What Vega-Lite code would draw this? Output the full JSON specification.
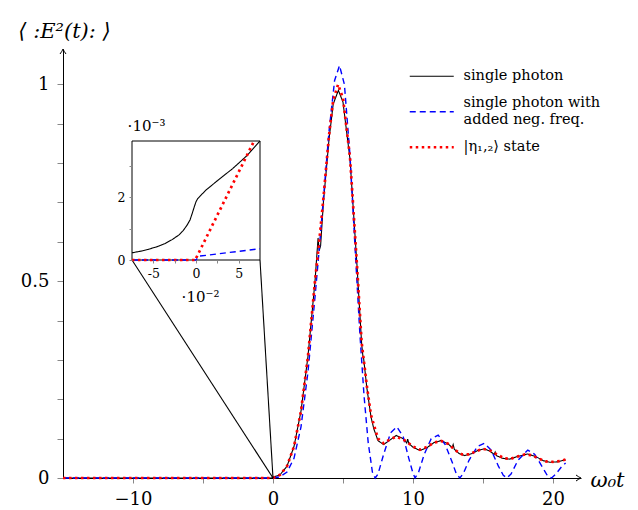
{
  "$schema": "https://vega.github.io/schema/vega-lite/v6.json",
  "width": 518,
  "height": 429,
  "autosize": "none",
  "padding": {"left": 63, "top": 49, "right": 57, "bottom": 32},
  "background": "white",
  "config": {"view": {"stroke": null}, "axis": {"grid": false}},
  "datasets": {
    "main": [
      {"series": "single photon", "x": -15, "y": 0},
      {"series": "single photon", "x": -0.1, "y": 0},
      {"series": "single photon", "x": 0, "y": 0.002},
      {"series": "single photon", "x": 0.5, "y": 0.008},
      {"series": "single photon", "x": 1.0, "y": 0.03},
      {"series": "single photon", "x": 1.5, "y": 0.08},
      {"series": "single photon", "x": 2.0, "y": 0.17},
      {"series": "single photon", "x": 2.5, "y": 0.31},
      {"series": "single photon", "x": 3.0, "y": 0.5},
      {"series": "single photon", "x": 3.15, "y": 0.575},
      {"series": "single photon", "x": 3.22, "y": 0.61},
      {"series": "single photon", "x": 3.3, "y": 0.578},
      {"series": "single photon", "x": 3.4, "y": 0.59},
      {"series": "single photon", "x": 3.6, "y": 0.7},
      {"series": "single photon", "x": 4.0, "y": 0.86},
      {"series": "single photon", "x": 4.3, "y": 0.95},
      {"series": "single photon", "x": 4.67, "y": 0.985},
      {"series": "single photon", "x": 5.0, "y": 0.955},
      {"series": "single photon", "x": 5.5, "y": 0.81},
      {"series": "single photon", "x": 6.0, "y": 0.54},
      {"series": "single photon", "x": 6.33, "y": 0.342},
      {"series": "single photon", "x": 6.42, "y": 0.31},
      {"series": "single photon", "x": 6.47, "y": 0.305},
      {"series": "single photon", "x": 6.7, "y": 0.23},
      {"series": "single photon", "x": 7.0, "y": 0.155},
      {"series": "single photon", "x": 7.2, "y": 0.125},
      {"series": "single photon", "x": 7.5, "y": 0.095},
      {"series": "single photon", "x": 7.9, "y": 0.085},
      {"series": "single photon", "x": 8.3, "y": 0.095},
      {"series": "single photon", "x": 8.8, "y": 0.108},
      {"series": "single photon", "x": 9.3, "y": 0.1},
      {"series": "single photon", "x": 9.55, "y": 0.089},
      {"series": "single photon", "x": 9.62, "y": 0.099},
      {"series": "single photon", "x": 9.7, "y": 0.088},
      {"series": "single photon", "x": 10.0, "y": 0.078},
      {"series": "single photon", "x": 10.5, "y": 0.07},
      {"series": "single photon", "x": 11.0, "y": 0.077},
      {"series": "single photon", "x": 11.5, "y": 0.09},
      {"series": "single photon", "x": 12.0, "y": 0.095},
      {"series": "single photon", "x": 12.5, "y": 0.087},
      {"series": "single photon", "x": 12.8, "y": 0.077},
      {"series": "single photon", "x": 12.87, "y": 0.085},
      {"series": "single photon", "x": 12.95, "y": 0.073},
      {"series": "single photon", "x": 13.3, "y": 0.062},
      {"series": "single photon", "x": 13.7, "y": 0.057},
      {"series": "single photon", "x": 14.2, "y": 0.062},
      {"series": "single photon", "x": 14.7, "y": 0.071},
      {"series": "single photon", "x": 15.1, "y": 0.074},
      {"series": "single photon", "x": 15.5, "y": 0.068},
      {"series": "single photon", "x": 15.8, "y": 0.06},
      {"series": "single photon", "x": 15.87, "y": 0.066},
      {"series": "single photon", "x": 15.95, "y": 0.057},
      {"series": "single photon", "x": 16.4, "y": 0.05},
      {"series": "single photon", "x": 16.9, "y": 0.048},
      {"series": "single photon", "x": 17.5, "y": 0.055},
      {"series": "single photon", "x": 18.2, "y": 0.061},
      {"series": "single photon", "x": 18.8, "y": 0.054},
      {"series": "single photon", "x": 19.3, "y": 0.044},
      {"series": "single photon", "x": 19.8, "y": 0.04},
      {"series": "single photon", "x": 20.3, "y": 0.041},
      {"series": "single photon", "x": 20.9, "y": 0.046},

      {"series": "single photon with added neg. freq.", "x": -15, "y": 0},
      {"series": "single photon with added neg. freq.", "x": 0, "y": 0},
      {"series": "single photon with added neg. freq.", "x": 0.5, "y": 0.003},
      {"series": "single photon with added neg. freq.", "x": 1.0, "y": 0.015},
      {"series": "single photon with added neg. freq.", "x": 1.5, "y": 0.05},
      {"series": "single photon with added neg. freq.", "x": 2.0, "y": 0.13},
      {"series": "single photon with added neg. freq.", "x": 2.5, "y": 0.27},
      {"series": "single photon with added neg. freq.", "x": 3.0, "y": 0.46},
      {"series": "single photon with added neg. freq.", "x": 3.3, "y": 0.58},
      {"series": "single photon with added neg. freq.", "x": 3.6, "y": 0.71},
      {"series": "single photon with added neg. freq.", "x": 4.0, "y": 0.88},
      {"series": "single photon with added neg. freq.", "x": 4.4, "y": 1.01},
      {"series": "single photon with added neg. freq.", "x": 4.75, "y": 1.048},
      {"series": "single photon with added neg. freq.", "x": 5.1, "y": 1.0},
      {"series": "single photon with added neg. freq.", "x": 5.5, "y": 0.82},
      {"series": "single photon with added neg. freq.", "x": 5.9, "y": 0.56},
      {"series": "single photon with added neg. freq.", "x": 6.2, "y": 0.37},
      {"series": "single photon with added neg. freq.", "x": 6.5, "y": 0.21},
      {"series": "single photon with added neg. freq.", "x": 6.8, "y": 0.09},
      {"series": "single photon with added neg. freq.", "x": 7.1, "y": 0.015},
      {"series": "single photon with added neg. freq.", "x": 7.3, "y": 0},
      {"series": "single photon with added neg. freq.", "x": 7.5, "y": 0.01},
      {"series": "single photon with added neg. freq.", "x": 7.9, "y": 0.06},
      {"series": "single photon with added neg. freq.", "x": 8.4, "y": 0.115},
      {"series": "single photon with added neg. freq.", "x": 8.85, "y": 0.13},
      {"series": "single photon with added neg. freq.", "x": 9.3, "y": 0.105},
      {"series": "single photon with added neg. freq.", "x": 9.7, "y": 0.05},
      {"series": "single photon with added neg. freq.", "x": 10.0, "y": 0.012},
      {"series": "single photon with added neg. freq.", "x": 10.15, "y": 0},
      {"series": "single photon with added neg. freq.", "x": 10.4, "y": 0.015},
      {"series": "single photon with added neg. freq.", "x": 10.8, "y": 0.06},
      {"series": "single photon with added neg. freq.", "x": 11.3, "y": 0.1},
      {"series": "single photon with added neg. freq.", "x": 11.8, "y": 0.109},
      {"series": "single photon with added neg. freq.", "x": 12.3, "y": 0.085},
      {"series": "single photon with added neg. freq.", "x": 12.8, "y": 0.04},
      {"series": "single photon with added neg. freq.", "x": 13.1, "y": 0.01},
      {"series": "single photon with added neg. freq.", "x": 13.35, "y": 0},
      {"series": "single photon with added neg. freq.", "x": 13.6, "y": 0.012},
      {"series": "single photon with added neg. freq.", "x": 14.0, "y": 0.045},
      {"series": "single photon with added neg. freq.", "x": 14.6, "y": 0.08},
      {"series": "single photon with added neg. freq.", "x": 15.1, "y": 0.088},
      {"series": "single photon with added neg. freq.", "x": 15.6, "y": 0.07},
      {"series": "single photon with added neg. freq.", "x": 16.1, "y": 0.03},
      {"series": "single photon with added neg. freq.", "x": 16.45, "y": 0.007},
      {"series": "single photon with added neg. freq.", "x": 16.7, "y": 0},
      {"series": "single photon with added neg. freq.", "x": 17.0, "y": 0.01},
      {"series": "single photon with added neg. freq.", "x": 17.5, "y": 0.045},
      {"series": "single photon with added neg. freq.", "x": 18.2, "y": 0.071},
      {"series": "single photon with added neg. freq.", "x": 18.7, "y": 0.06},
      {"series": "single photon with added neg. freq.", "x": 19.2, "y": 0.03},
      {"series": "single photon with added neg. freq.", "x": 19.6, "y": 0.006},
      {"series": "single photon with added neg. freq.", "x": 19.9, "y": 0},
      {"series": "single photon with added neg. freq.", "x": 20.2, "y": 0.01},
      {"series": "single photon with added neg. freq.", "x": 20.6, "y": 0.028},
      {"series": "single photon with added neg. freq.", "x": 20.9, "y": 0.038},

      {"series": "|η₁,₂⟩ state", "x": -15, "y": 0},
      {"series": "|η₁,₂⟩ state", "x": 0, "y": 0},
      {"series": "|η₁,₂⟩ state", "x": 0.5, "y": 0.008},
      {"series": "|η₁,₂⟩ state", "x": 1.0, "y": 0.03},
      {"series": "|η₁,₂⟩ state", "x": 1.5, "y": 0.08},
      {"series": "|η₁,₂⟩ state", "x": 2.0, "y": 0.17},
      {"series": "|η₁,₂⟩ state", "x": 2.5, "y": 0.31},
      {"series": "|η₁,₂⟩ state", "x": 3.0, "y": 0.5},
      {"series": "|η₁,₂⟩ state", "x": 3.3, "y": 0.6},
      {"series": "|η₁,₂⟩ state", "x": 3.6, "y": 0.71},
      {"series": "|η₁,₂⟩ state", "x": 4.0, "y": 0.87},
      {"series": "|η₁,₂⟩ state", "x": 4.3, "y": 0.96},
      {"series": "|η₁,₂⟩ state", "x": 4.65, "y": 1.0},
      {"series": "|η₁,₂⟩ state", "x": 5.0, "y": 0.965},
      {"series": "|η₁,₂⟩ state", "x": 5.5, "y": 0.815},
      {"series": "|η₁,₂⟩ state", "x": 6.0, "y": 0.54},
      {"series": "|η₁,₂⟩ state", "x": 6.33, "y": 0.345},
      {"series": "|η₁,₂⟩ state", "x": 6.7, "y": 0.235},
      {"series": "|η₁,₂⟩ state", "x": 7.0, "y": 0.16},
      {"series": "|η₁,₂⟩ state", "x": 7.5, "y": 0.1},
      {"series": "|η₁,₂⟩ state", "x": 7.9, "y": 0.088},
      {"series": "|η₁,₂⟩ state", "x": 8.3, "y": 0.097},
      {"series": "|η₁,₂⟩ state", "x": 8.8, "y": 0.105},
      {"series": "|η₁,₂⟩ state", "x": 9.3, "y": 0.098},
      {"series": "|η₁,₂⟩ state", "x": 9.7, "y": 0.088},
      {"series": "|η₁,₂⟩ state", "x": 10.0, "y": 0.08},
      {"series": "|η₁,₂⟩ state", "x": 10.5, "y": 0.072},
      {"series": "|η₁,₂⟩ state", "x": 11.0, "y": 0.079},
      {"series": "|η₁,₂⟩ state", "x": 11.5, "y": 0.09},
      {"series": "|η₁,₂⟩ state", "x": 12.0, "y": 0.094},
      {"series": "|η₁,₂⟩ state", "x": 12.5, "y": 0.087},
      {"series": "|η₁,₂⟩ state", "x": 13.0, "y": 0.071},
      {"series": "|η₁,₂⟩ state", "x": 13.5, "y": 0.06},
      {"series": "|η₁,₂⟩ state", "x": 14.0, "y": 0.06},
      {"series": "|η₁,₂⟩ state", "x": 14.5, "y": 0.068},
      {"series": "|η₁,₂⟩ state", "x": 15.0, "y": 0.074},
      {"series": "|η₁,₂⟩ state", "x": 15.5, "y": 0.07},
      {"series": "|η₁,₂⟩ state", "x": 16.0, "y": 0.06},
      {"series": "|η₁,₂⟩ state", "x": 16.5, "y": 0.05},
      {"series": "|η₁,₂⟩ state", "x": 17.0, "y": 0.049},
      {"series": "|η₁,₂⟩ state", "x": 17.5, "y": 0.055},
      {"series": "|η₁,₂⟩ state", "x": 18.0, "y": 0.06},
      {"series": "|η₁,₂⟩ state", "x": 18.5, "y": 0.058},
      {"series": "|η₁,₂⟩ state", "x": 19.0, "y": 0.049},
      {"series": "|η₁,₂⟩ state", "x": 19.5, "y": 0.042},
      {"series": "|η₁,₂⟩ state", "x": 20.0, "y": 0.041},
      {"series": "|η₁,₂⟩ state", "x": 20.5, "y": 0.043},
      {"series": "|η₁,₂⟩ state", "x": 20.9, "y": 0.047}
    ],
    "inset": [
      {"series": "single photon", "x": -0.075, "y": 0.00023},
      {"series": "single photon", "x": -0.065, "y": 0.00028},
      {"series": "single photon", "x": -0.056, "y": 0.00034},
      {"series": "single photon", "x": -0.045, "y": 0.00043},
      {"series": "single photon", "x": -0.036, "y": 0.00053},
      {"series": "single photon", "x": -0.028, "y": 0.00065},
      {"series": "single photon", "x": -0.02, "y": 0.0008},
      {"series": "single photon", "x": -0.015, "y": 0.00094},
      {"series": "single photon", "x": -0.0103, "y": 0.00112},
      {"series": "single photon", "x": -0.007, "y": 0.00128},
      {"series": "single photon", "x": -0.0044, "y": 0.00149},
      {"series": "single photon", "x": -0.002, "y": 0.0017},
      {"series": "single photon", "x": 0, "y": 0.00186},
      {"series": "single photon", "x": 0.002, "y": 0.00196},
      {"series": "single photon", "x": 0.0045, "y": 0.00203},
      {"series": "single photon", "x": 0.0115, "y": 0.00223},
      {"series": "single photon", "x": 0.025, "y": 0.00253},
      {"series": "single photon", "x": 0.043, "y": 0.00292},
      {"series": "single photon", "x": 0.06, "y": 0.00334},
      {"series": "single photon", "x": 0.075, "y": 0.0038},
      {"series": "single photon with added neg. freq.", "x": -0.075, "y": 0},
      {"series": "single photon with added neg. freq.", "x": 0, "y": 0},
      {"series": "single photon with added neg. freq.", "x": 0.003, "y": 0.00012},
      {"series": "single photon with added neg. freq.", "x": 0.075, "y": 0.00036},
      {"series": "|η₁,₂⟩ state", "x": -0.075, "y": 0},
      {"series": "|η₁,₂⟩ state", "x": 0, "y": 0},
      {"series": "|η₁,₂⟩ state", "x": 0.0005, "y": 0.00008},
      {"series": "|η₁,₂⟩ state", "x": 0.068, "y": 0.0038}
    ],
    "cone": [
      {"x": -10.071, "y": 0.5539, "x2": 0, "y2": 0},
      {"x": -0.929, "y": 0.5539, "x2": 0, "y2": 0}
    ]
  },
  "layer": [
    {
      "layer": [
        {
          "data": {"name": "main"},
          "mark": {"type": "line", "strokeCap": "butt"},
          "encoding": {
            "x": {
              "field": "x", "type": "quantitative",
              "scale": {"domain": [-15, 22], "nice": false, "zero": false},
              "axis": {
                "orient": "bottom",
                "values": [-10, -5, 0, 5, 10, 15, 20],
                "labelExpr": "datum.value == -10 ? '−10' : datum.value == 0 ? '0' : datum.value == 10 ? '10' : datum.value == 20 ? '20' : ''",
                "labelFont": "DejaVu Serif", "labelFontSize": 18, "labelColor": "black",
                "labelPadding": 7, "labelFlush": false, "labelOverlap": false,
                "tickColor": "#888", "tickSize": 5, "tickWidth": 1,
                "domainColor": "black", "domainWidth": 1,
                "encode": {"ticks": {"update": {"y": {"value": -5}}}},
                "title": "ω₀t", "titleX": 544, "titleY": 2,
                "titleAlign": "center", "titleBaseline": "middle",
                "titleFont": "DejaVu Serif", "titleFontStyle": "italic", "titleFontSize": 21, "titleFontWeight": "normal", "titleColor": "black"
              }
            },
            "y": {
              "field": "y", "type": "quantitative",
              "scale": {"domain": [0, 1.09], "nice": false, "zero": false},
              "axis": {
                "orient": "left",
                "values": [0, 0.1, 0.2, 0.3, 0.4, 0.5, 0.6, 0.7, 0.8, 0.9, 1],
                "labelExpr": "datum.value == 0 ? '0' : datum.value == 0.5 ? '0.5' : datum.value == 1 ? '1' : ''",
                "labelFont": "DejaVu Serif", "labelFontSize": 18, "labelColor": "black",
                "labelPadding": 8, "labelFlush": false, "labelOverlap": false,
                "tickColor": "#888", "tickSize": 6, "tickWidth": 1,
                "domainColor": "black", "domainWidth": 1,
                "encode": {"ticks": {"update": {"x": {"value": 6}}}},
                "title": "⟨ :E²(t): ⟩", "titleAngle": 0, "titleX": 1, "titleY": -18,
                "titleAlign": "center", "titleBaseline": "middle",
                "titleFont": "DejaVu Serif", "titleFontStyle": "italic", "titleFontSize": 21, "titleFontWeight": "normal", "titleColor": "black"
              }
            },
            "color": {
              "field": "series", "type": "nominal",
              "scale": {"domain": ["single photon", "single photon with added neg. freq.", "|η₁,₂⟩ state"], "range": ["#000000", "#0000ff", "#ff0000"]},
              "legend": {
                "orient": "none", "legendX": 345, "legendY": 20, "title": null,
                "padding": 0, "symbolType": "M -1,0 L 7,0", "symbolSize": 121,
                "labelFont": "DejaVu Serif", "labelFontSize": 14.5, "labelColor": "black",
                "labelOffset": 41, "rowPadding": 11.5, "labelLimit": 300,
                "labelExpr": "datum.value == 'single photon with added neg. freq.' ? ['single photon with', 'added neg. freq.'] : datum.label",
                "encode": {"labels": {"update": {"lineHeight": {"value": 17}, "dy": {"signal": "datum.value == 'single photon with added neg. freq.' ? -8.5 : 0"}}}}
              }
            },
            "strokeDash": {
              "field": "series", "type": "nominal",
              "scale": {"domain": ["single photon", "single photon with added neg. freq.", "|η₁,₂⟩ state"], "range": [[1, 0], [6, 4], [2.5, 3.5]]}
            },
            "strokeWidth": {
              "field": "series", "type": "ordinal",
              "scale": {"type": "ordinal", "domain": ["single photon", "single photon with added neg. freq.", "|η₁,₂⟩ state"], "range": [1.1, 1.4, 2.7]}
            }
          }
        },
        {
          "data": {"name": "cone"},
          "mark": {"type": "rule", "color": "black", "strokeWidth": 1.1},
          "encoding": {
            "x": {"field": "x", "type": "quantitative"},
            "y": {"field": "y", "type": "quantitative"},
            "x2": {"field": "x2"},
            "y2": {"field": "y2"}
          }
        },
        {
          "data": {"values": [{"x": 22, "y": 0}]},
          "mark": {"type": "point", "shape": "M -2,-1.2 Q -0.8,-0.3 0,0 Q -0.8,0.3 -2,1.2", "size": 25, "filled": false, "stroke": "black", "strokeWidth": 1, "opacity": 1},
          "encoding": {
            "x": {"field": "x", "type": "quantitative"},
            "y": {"field": "y", "type": "quantitative"}
          }
        },
        {
          "data": {"values": [{"x": -15, "y": 1.09}]},
          "mark": {"type": "point", "shape": "M -1.2,2 Q -0.3,0.8 0,0 Q 0.3,0.8 1.2,2", "size": 25, "filled": false, "stroke": "black", "strokeWidth": 1, "opacity": 1},
          "encoding": {
            "x": {"field": "x", "type": "quantitative"},
            "y": {"field": "y", "type": "quantitative"}
          }
        }
      ]
    },
    {
      "layer": [
        {
          "data": {"values": [{"x0": -0.075, "x1": 0.075, "y0": 0, "y1": 0.0038}]},
          "mark": {"type": "rect", "fill": "white", "stroke": "black", "strokeWidth": 1},
          "encoding": {
            "x": {"field": "x0", "type": "quantitative"},
            "x2": {"field": "x1"},
            "y": {"field": "y0", "type": "quantitative"},
            "y2": {"field": "y1"}
          }
        },
        {
          "data": {"name": "inset"},
          "mark": {"type": "line", "strokeCap": "butt"},
          "encoding": {
            "x": {
              "field": "x", "type": "quantitative",
              "scale": {"domain": [-0.075, 0.075], "range": [69, 197], "nice": false, "zero": false},
              "axis": {
                "orient": "bottom", "offset": -218, "zindex": 1,
                "values": [-0.05, -0.025, 0, 0.025, 0.05],
                "labelExpr": "abs(datum.value + 0.05) < 1e-9 ? '-5' : abs(datum.value) < 1e-9 ? '0' : abs(datum.value - 0.05) < 1e-9 ? '5' : ''",
                "labelFont": "DejaVu Serif", "labelFontSize": 12.5, "labelColor": "black",
                "labelPadding": 4, "labelFlush": false, "labelOverlap": false,
                "tickColor": "#888", "tickSize": 3, "tickWidth": 1, "domain": false,
                "encode": {"ticks": {"update": {"y": {"value": -3}}}},
                "title": "·10⁻²", "titleX": 137, "titleY": 36,
                "titleAlign": "center", "titleBaseline": "middle",
                "titleFont": "DejaVu Serif", "titleFontSize": 15, "titleFontWeight": "normal", "titleColor": "black"
              }
            },
            "y": {
              "field": "y", "type": "quantitative",
              "scale": {"domain": [0, 0.0038], "range": [211, 92], "nice": false, "zero": false},
              "axis": {
                "orient": "left", "offset": -69, "zindex": 1,
                "values": [0, 0.001, 0.002, 0.003],
                "labelExpr": "abs(datum.value) < 1e-12 ? '0' : abs(datum.value - 0.002) < 1e-9 ? '2' : ''",
                "labelFont": "DejaVu Serif", "labelFontSize": 12.5, "labelColor": "black",
                "labelPadding": 4, "labelFlush": false, "labelOverlap": false,
                "tickColor": "#888", "tickSize": 3, "tickWidth": 1, "domain": false,
                "encode": {"ticks": {"update": {"x": {"value": 3}}}},
                "title": "·10⁻³", "titleAngle": 0, "titleX": 14, "titleY": 76,
                "titleAlign": "center", "titleBaseline": "middle",
                "titleFont": "DejaVu Serif", "titleFontSize": 15, "titleFontWeight": "normal", "titleColor": "black"
              }
            },
            "color": {
              "field": "series", "type": "nominal",
              "scale": {"domain": ["single photon", "single photon with added neg. freq.", "|η₁,₂⟩ state"], "range": ["#000000", "#0000ff", "#ff0000"]}
            },
            "strokeDash": {
              "field": "series", "type": "nominal",
              "scale": {"domain": ["single photon", "single photon with added neg. freq.", "|η₁,₂⟩ state"], "range": [[1, 0], [6, 4], [2.5, 3.5]]}
            },
            "strokeWidth": {
              "field": "series", "type": "ordinal",
              "scale": {"type": "ordinal", "domain": ["single photon", "single photon with added neg. freq.", "|η₁,₂⟩ state"], "range": [1.1, 1.4, 2.7]}
            }
          }
        }
      ]
    }
  ],
  "resolve": {"scale": {"x": "independent", "y": "independent"}}
}
